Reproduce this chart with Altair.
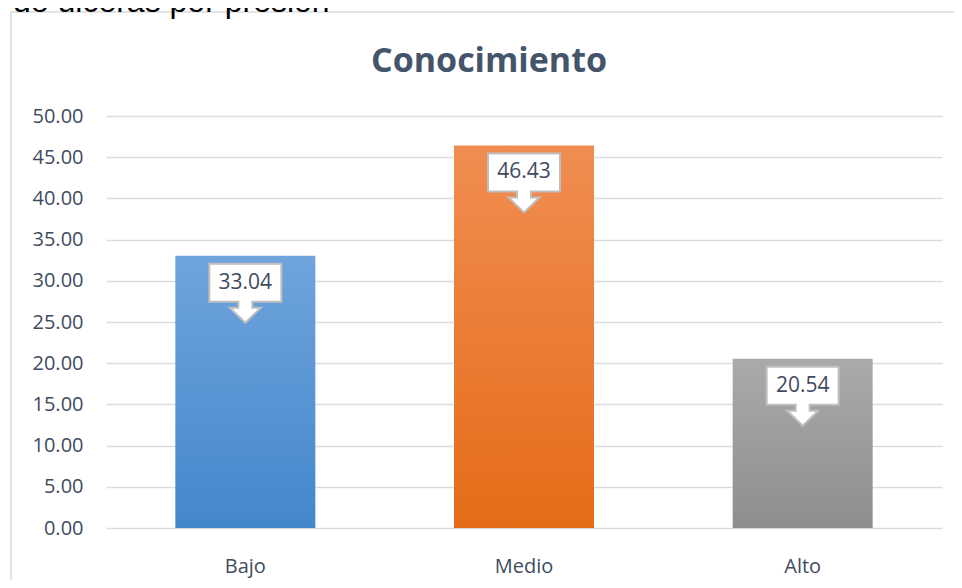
import altair as alt
import pandas as pd

# ---- data ----
categories = ["Bajo", "Medio", "Alto"]
values = [33.04, 46.43, 20.54]
top_colors = ["#6fa4dd", "#f18d52", "#aaaaaa"]
bottom_colors = ["#4387cb", "#e46c17", "#8e8e8e"]
y_ticks = [0, 5, 10, 15, 20, 25, 30, 35, 40, 45, 50]
title_text = "Conocimiento"
caption_text = "de úlceras por presión"

df = pd.DataFrame({"cat": categories, "val": values})
one = pd.DataFrame({"k": [0]})

TEXT_COLOR = "#3f4b5e"
FONT = "Open Sans"

x_enc = alt.X(
    "cat:N",
    scale=alt.Scale(domain=categories, paddingInner=0, paddingOuter=0),
    axis=alt.Axis(
        title=None, domain=False, ticks=False, grid=False,
        labelFont=FONT, labelFontSize=20, labelColor=TEXT_COLOR,
        labelBaseline="alphabetic", labelPadding=44, labelAngle=0,
    ),
)
y_enc = alt.Y(
    "val:Q",
    scale=alt.Scale(domain=[0, 50], nice=False, zero=True),
    axis=alt.Axis(
        title=None, values=y_ticks, format=".2f", domain=False, ticks=False,
        grid=True, gridColor="#d9dde3", gridWidth=1.5,
        labelFont=FONT, labelFontSize=20, labelColor=TEXT_COLOR,
        labelPadding=23,
    ),
)

frame = alt.Chart(one).mark_rect(
    fill="white", fillOpacity=0, stroke="#d9dbde", strokeWidth=1.5
).encode(
    x=alt.value(-95), x2=alt.value(900), y=alt.value(-104), y2=alt.value(520)
)

bar_layers = []
for c, t, b in zip(categories, top_colors, bottom_colors):
    bar_layers.append(
        alt.Chart(df)
        .transform_filter(alt.datum.cat == c)
        .mark_bar(
            size=140,
            color=alt.Gradient(
                gradient="linear", x1=0, x2=0, y1=0, y2=1,
                stops=[alt.GradientStop(color=t, offset=0),
                       alt.GradientStop(color=b, offset=1)],
            ),
        )
        .encode(x=x_enc, y=y_enc)
    )

callout_path = (
    "M -1 0.222 L 1 0.222 L 1 1.278 L 0.194 1.278 L 0.194 1.444 "
    "L 0.43 1.444 L 0 1.861 L -0.43 1.444 L -0.194 1.444 L -0.194 1.278 "
    "L -1 1.278 Z"
)
callouts = alt.Chart(df).mark_point(
    shape=callout_path, size=5184, filled=True, fill="white",
    stroke="#bfbfbf", strokeWidth=2, opacity=1,
).encode(x=x_enc, y=y_enc)

labels = alt.Chart(df).mark_text(
    dy=27, baseline="middle", align="center",
    font=FONT, fontSize=21, color=TEXT_COLOR,
).encode(x=x_enc, y=y_enc, text=alt.Text("val:Q", format=".2f"))

title = alt.Chart(one).mark_text(
    text=title_text, font=FONT, fontSize=34, fontWeight="bold",
    color="#44546a", align="center", baseline="alphabetic",
).encode(x=alt.value(383), y=alt.value(-44))

caption = alt.Chart(one).mark_text(
    text=caption_text, font="Liberation Sans", fontSize=32,
    color="#000000", align="left", baseline="alphabetic",
).encode(x=alt.value(-93), y=alt.value(-104))

chart = alt.layer(frame, *bar_layers, callouts, labels, title, caption).properties(
    width=836,
    height=412,
    autosize=alt.AutoSizeParams(type="none"),
    padding={"left": 98, "top": 108, "right": 12, "bottom": 52},
    background="white",
).configure_view(stroke=None)

chart.save("out.html", embed_options={"renderer": "svg", "actions": False})
